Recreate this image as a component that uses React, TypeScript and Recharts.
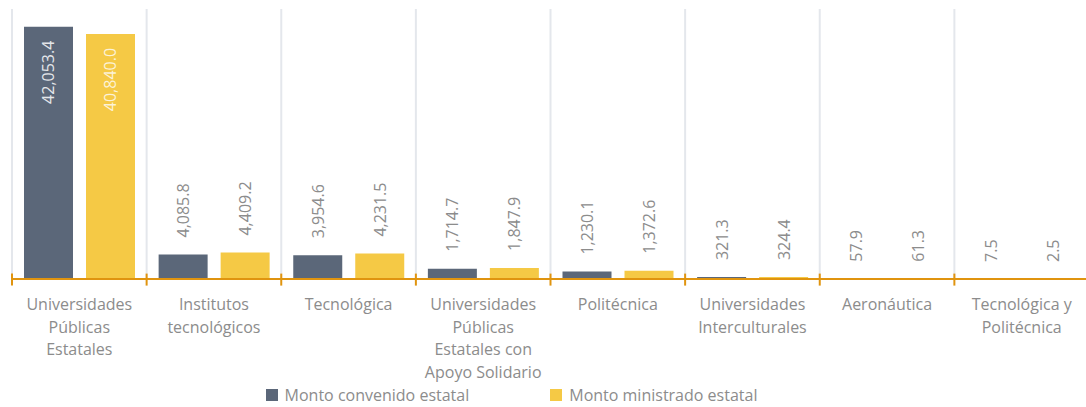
import { BarChart, Bar, XAxis, YAxis, Legend, ReferenceLine } from 'recharts';

const categories = [
  'Universidades\nPúblicas\nEstatales',
  'Institutos\ntecnológicos',
  'Tecnológica',
  'Universidades\nPúblicas\nEstatales con\nApoyo Solidario',
  'Politécnica',
  'Universidades\nInterculturales',
  'Aeronáutica',
  'Tecnológica y\nPolitécnica',
];
const montoConvenido = [42053.4, 4085.8, 3954.6, 1714.7, 1230.1, 321.3, 57.9, 7.5];
const montoMinistrado = [40840.0, 4409.2, 4231.5, 1847.9, 1372.6, 324.4, 61.3, 2.5];
const seriesNames = ['Monto convenido estatal', 'Monto ministrado estatal'];
const yDomain = [0, 45000];

const GRAY = '#5b6779';
const YELLOW = '#f5c945';
const AXIS = '#e0940f';
const TEXT = '#8c8c8c';
const FONT = '"Open Sans", sans-serif';

const data = categories.map((name, i) => ({
  name,
  idx: i + 0.5,
  convenido: montoConvenido[i],
  ministrado: montoMinistrado[i],
}));
const edges = Array.from({ length: categories.length + 1 }, (_, i) => i);

const fmt = (v: number) =>
  v.toLocaleString('en-US', { minimumFractionDigits: 1, maximumFractionDigits: 1 });

const makeLabel = (insideFill: string) => (props: any) => {
  const { x, y, width, value } = props;
  const cx = Number(x) + Number(width) / 2;
  const inside = Number(value) > 20000;
  const ty = inside ? Number(y) + 14 : Number(y) - 17;
  return (
    <text
      x={cx}
      y={ty}
      transform={`rotate(-90 ${cx} ${ty})`}
      textAnchor={inside ? 'end' : 'start'}
      dominantBaseline="central"
      fill={inside ? insideFill : TEXT}
      fontSize={16}
      fontFamily={FONT}
    >
      {fmt(Number(value))}
    </text>
  );
};

function CategoryTick({ x, y, payload }: any) {
  const lines = String(payload.value).split('\n');
  return (
    <text x={x} y={y + 31} textAnchor="middle" fill={TEXT} fontSize={16} fontFamily={FONT}>
      {lines.map((l, i) => (
        <tspan key={i} x={x} dy={i === 0 ? 0 : 22.5}>
          {l}
        </tspan>
      ))}
    </text>
  );
}

function LegendContent() {
  const colors = [GRAY, YELLOW];
  return (
    <div
      style={{
        display: 'flex',
        justifyContent: 'center',
        alignItems: 'center',
        height: 24,
        paddingRight: 78,
        gap: 81,
        fontFamily: FONT,
        fontSize: 16,
        color: TEXT,
      }}
    >
      {seriesNames.map((n, i) => (
        <div key={n} style={{ display: 'flex', alignItems: 'center' }}>
          <span style={{ width: 12, height: 12, background: colors[i], marginRight: 7 }} />
          <span>{n}</span>
        </div>
      ))}
    </div>
  );
}

export default function App() {
  return (
    <div
      style={{
        position: 'absolute',
        left: 0,
        top: 0,
        width: 1086,
        height: 407,
        overflow: 'hidden',
        background: '#fff',
        fontFamily: FONT,
      }}
    >
      <BarChart
        width={1090}
        height={407}
        data={data}
        margin={{ top: 9, right: 1, bottom: 0, left: 12 }}
        barCategoryGap={12}
        barGap={13}
      >
        <XAxis
          dataKey="name"
          axisLine={{ stroke: AXIS, strokeWidth: 2 }}
          tickLine={false}
          tickSize={0}
          tickMargin={0}
          interval={0}
          height={104}
          tick={<CategoryTick />}
        />
        <XAxis xAxisId="edge" type="number" dataKey="idx" domain={[0, categories.length]} hide />
        <YAxis domain={yDomain} hide />
        {edges.map((e) => (
          <ReferenceLine key={`g${e}`} xAxisId="edge" x={e} stroke="#e4e7ec" strokeWidth={2} />
        ))}
        {edges.map((e) => (
          <ReferenceLine
            key={`t${e}`}
            xAxisId="edge"
            segment={[
              { x: e, y: -1100 },
              { x: e, y: 900 },
            ]}
            stroke={AXIS}
            strokeWidth={2}
            ifOverflow="visible"
          />
        ))}
        <Legend verticalAlign="bottom" height={24} content={<LegendContent />} />
        <Bar
          dataKey="convenido"
          name={seriesNames[0]}
          fill={GRAY}
          isAnimationActive={false}
          label={makeLabel('#e4e6ea')}
        />
        <Bar
          dataKey="ministrado"
          name={seriesNames[1]}
          fill={YELLOW}
          isAnimationActive={false}
          label={makeLabel('#fcf2d6')}
        />
      </BarChart>
    </div>
  );
}
